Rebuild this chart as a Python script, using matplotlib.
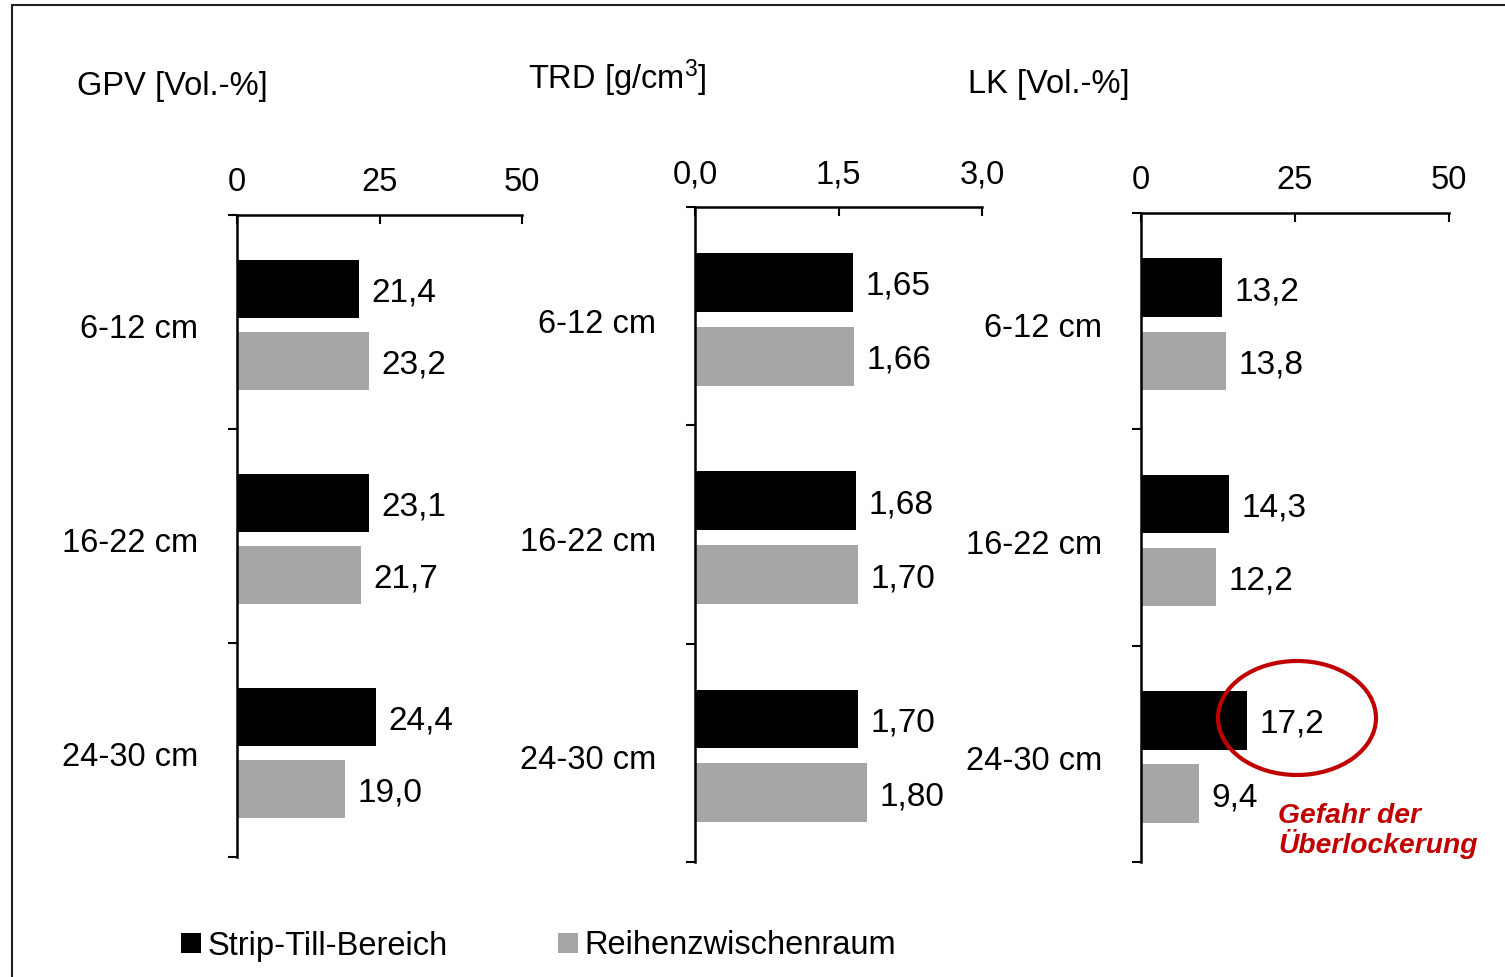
import numpy as np
import matplotlib
matplotlib.use("Agg")
import matplotlib.pyplot as plt
from matplotlib.patches import Ellipse, Rectangle

plt.rcParams['font.family'] = ['Liberation Sans', 'DejaVu Sans']
plt.rcParams['font.size'] = 23.5
plt.rcParams['mathtext.fontset'] = 'custom'
plt.rcParams['mathtext.rm'] = 'Liberation Sans'
plt.rcParams['mathtext.it'] = 'Liberation Sans:italic'

W, H = 1505, 977

# data
tiefen = ["6-12 cm", "16-22 cm", "24-30 cm"]
gpv_strip = [21.4, 23.1, 24.4]
gpv_reihe = [23.2, 21.7, 19.0]
trd_strip = [1.65, 1.68, 1.70]
trd_reihe = [1.66, 1.70, 1.80]
lk_strip = [13.2, 14.3, 17.2]
lk_reihe = [13.8, 12.2, 9.4]

gpv_ticks = [0, 25, 50]
gpv_ticklabels = ["0", "25", "50"]
trd_ticks = [0, 1.5, 3.0]
trd_ticklabels = ["0,0", "1,5", "3,0"]
lk_ticks = [0, 25, 50]
lk_ticklabels = ["0", "25", "50"]

GRAU = '#A6A6A6'
ROT = '#C00000'
OFF_S, OFF_R = -0.155, 0.183


def px_axes(fig, x0, x1, y0, y1):
    return fig.add_axes([x0 / W, 1 - y1 / H, (x1 - x0) / W, (y1 - y0) / H])


def f_panel(ax, strip, reihe, ticks, ticklabels, ndec):
    pos = np.arange(len(tiefen))
    b1 = ax.barh(pos + OFF_S, strip, height=0.27, color='black')
    b2 = ax.barh(pos + OFF_R, reihe, height=0.27, color=GRAU)
    for vals, off in ((strip, OFF_S), (reihe, OFF_R)):
        for y, v in zip(pos, vals):
            txt = ("%.*f" % (ndec, v)).replace('.', ',')
            ax.annotate(txt, (v, y + off), xytext=(9, -3), textcoords='offset points',
                        va='center', ha='left', fontsize=24)
    ax.set_xlim(ticks[0], ticks[-1])
    ax.set_ylim(2.5, -0.5)
    ax.xaxis.tick_top()
    ax.set_xticks(ticks)
    ax.set_xticklabels(ticklabels)
    ax.tick_params(axis='x', direction='in', length=6.5, width=1.5, pad=12)
    ax.set_yticks([-0.5, 0.5, 1.5, 2.5])
    ax.set_yticklabels([])
    ax.set_yticks(pos + 0.02, minor=True)
    ax.set_yticklabels(tiefen, minor=True)
    ax.tick_params(axis='y', which='major', direction='out', length=6.5, width=1.5)
    ax.tick_params(axis='y', which='minor', length=0, pad=28)
    for s in ('right', 'bottom'):
        ax.spines[s].set_visible(False)
    for s in ('top', 'left'):
        ax.spines[s].set_linewidth(1.8)
    return b1, b2


fig = plt.figure(figsize=(W / 100, H / 100), dpi=100)

ax1 = px_axes(fig, 237, 522, 215, 857)
ax2 = px_axes(fig, 695, 982, 207, 862)
ax3 = px_axes(fig, 1141, 1449, 213, 862)

b1, b2 = f_panel(ax1, gpv_strip, gpv_reihe, gpv_ticks, gpv_ticklabels, 1)
f_panel(ax2, trd_strip, trd_reihe, trd_ticks, trd_ticklabels, 2)
f_panel(ax3, lk_strip, lk_reihe, lk_ticks, lk_ticklabels, 1)

# titles
fig.text(77 / W, 1 - 87 / H, "GPV [Vol.-%]", ha='left', va='center')
fig.text(528 / W, 1 - 78 / H, "TRD [g/cm$^3$]", ha='left', va='center')
fig.text(968 / W, 1 - 85 / H, "LK [Vol.-%]", ha='left', va='center')

# legend
fig.legend([b1, b2], ["Strip-Till-Bereich", "Reihenzwischenraum"], ncol=2,
           loc='center left', bbox_to_anchor=(181 / W, 1 - 946 / H),
           frameon=False, borderpad=0, borderaxespad=0,
           handlelength=0.6, handleheight=0.6, handletextpad=0.2, columnspacing=3.4)

# annotation
fig.add_artist(Ellipse((1297 / W, 1 - 718 / H), 158 / W, 114 / H,
                       transform=fig.transFigure, fill=False, edgecolor=ROT, linewidth=3))
fig.text(1278 / W, 1 - 831 / H, "Gefahr der\nÜberlockerung", ha='left', va='center',
         color=ROT, fontsize=20.3, fontweight='bold', style='italic', linespacing=1.0)

# frame
fig.add_artist(Rectangle((12 / W, -0.2), 1.2, 1.2 - 5 / H, transform=fig.transFigure,
                         fill=False, edgecolor='#222222', linewidth=1.5))

fig.savefig("out.png", dpi=100)
